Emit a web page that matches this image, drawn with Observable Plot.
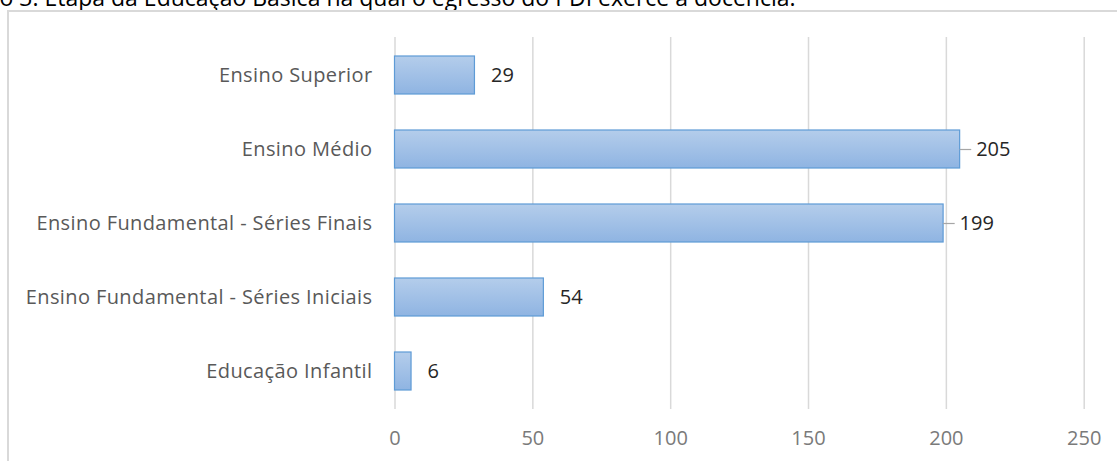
<!DOCTYPE html>
<html>
<head>
<meta charset="utf-8">
<script src="https://cdn.jsdelivr.net/npm/d3@7"></script>
<script src="https://cdn.jsdelivr.net/npm/@observablehq/plot@0.6"></script>
<style>
  html, body { margin: 0; padding: 0; background: #fff; overflow: hidden; width: 1117px; height: 461px; }
  #wrap { position: relative; width: 1117px; height: 461px; overflow: hidden; }
  #title { position: absolute; left: -64px; top: -14.5px; font: 23px/23px "Open Sans", sans-serif; color: #000; white-space: nowrap; }
  #frame { position: absolute; left: 7px; top: 10px; width: 1300px; height: 700px; border: 2px solid #d9d9d9; box-sizing: border-box; }
  #chart { position: absolute; left: 0; top: 0; }
  #chart svg g[aria-label="y-axis tick label"] text { letter-spacing: 0.4px; }
</style>
</head>
<body>
<div id="wrap">
  <div id="title">Gráfico 3: Etapa da Educação Básica na qual o egresso do PDI exerce a docência.</div>
  <div id="frame"></div>
  <div id="chart"></div>
</div>
<script>
const categories = [
  "Ensino Superior",
  "Ensino Médio",
  "Ensino Fundamental - Séries Finais",
  "Ensino Fundamental - Séries Iniciais",
  "Educação Infantil"
];
const values = [29, 205, 199, 54, 6];
const xTicks = [0, 50, 100, 150, 200, 250];
const leaderLines = ["Ensino Médio", "Ensino Fundamental - Séries Finais"];

const data = categories.map((c, i) => ({category: c, value: values[i]}));

const defs = () => {
  const d = d3.create("svg:defs");
  const g = d.append("linearGradient").attr("id", "barGrad").attr("x1", 0).attr("y1", 0).attr("x2", 0).attr("y2", 1);
  g.append("stop").attr("offset", "0%").attr("stop-color", "#b4cdeb");
  g.append("stop").attr("offset", "100%").attr("stop-color", "#8fb4e2");
  return d.node();
};

const chart = Plot.plot({
  width: 1117,
  height: 461,
  marginLeft: 394.5,
  marginRight: 33.3,
  marginTop: 37,
  marginBottom: 52,
  style: {background: "transparent", fontFamily: "'Open Sans', sans-serif", fontSize: "20px"},
  x: {domain: [0, 250], ticks: xTicks, label: null, tickSize: 0, tickPadding: 21},
  y: {domain: categories, label: null, paddingInner: 0.48, paddingOuter: 0.24, tickSize: 0, tickPadding: 22.5},
  marks: [
    defs,
    Plot.gridX(xTicks, {stroke: "#d9d9d9", strokeOpacity: 1, strokeWidth: 1.5}),
    Plot.barX(data, {x: "value", y: "category", fill: "url(#barGrad)", stroke: "#5e9bd6", strokeWidth: 1.2}),
    Plot.ruleY(data.filter(d => leaderLines.includes(d.category)), {
      y: "category", x1: "value", x2: d => d.value + 4.2, stroke: "#a6a6a6", strokeWidth: 1.2
    }),
    Plot.text(data, {
      x: "value", y: "category", text: d => String(d.value),
      textAnchor: "start", fill: "#262626", fontSize: 20, dx: 16
    }),
    Plot.axisX({ticks: xTicks, tickSize: 0, tickPadding: 21, fill: "#7a7a7a", fontSize: 20, label: null}),
    Plot.axisY({tickSize: 0, tickPadding: 22.5, fill: "#595959", fontSize: 20, label: null})
  ]
});
document.getElementById("chart").appendChild(chart);
</script>
</body>
</html>
